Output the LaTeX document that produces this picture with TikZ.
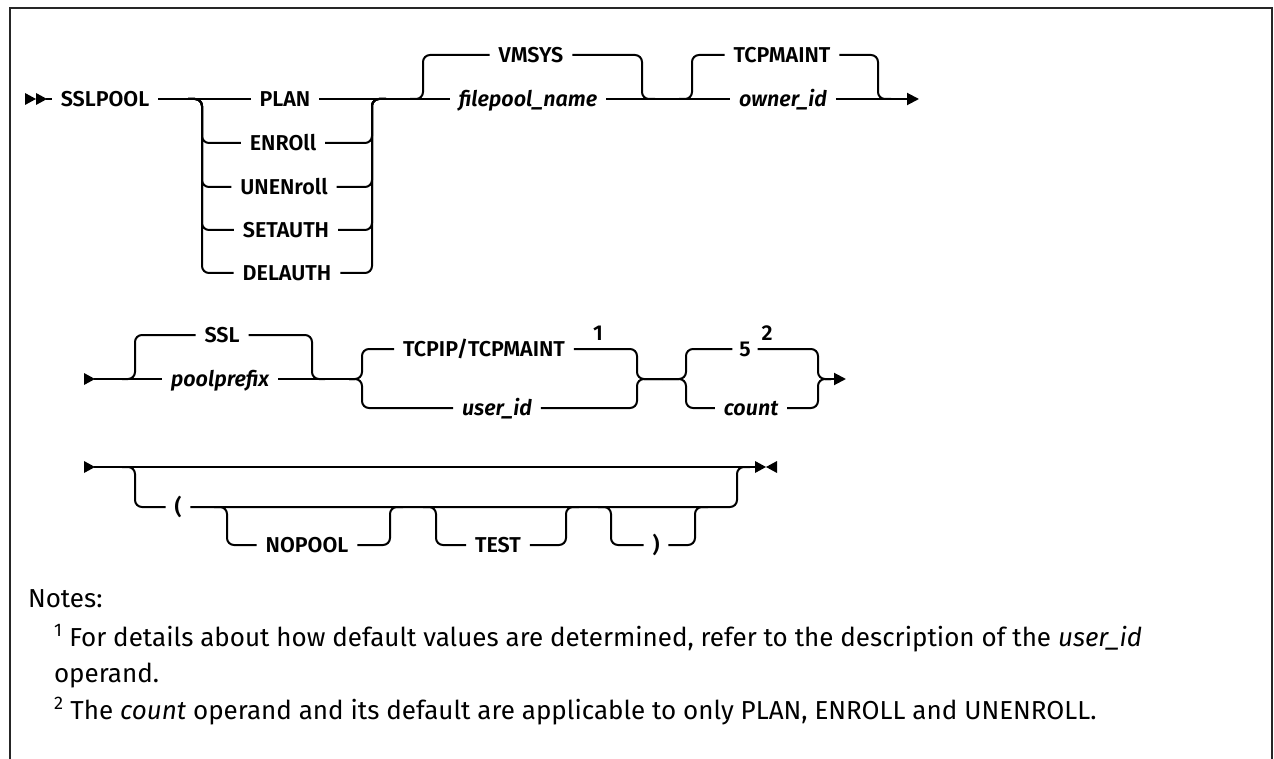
\documentclass[tikz,border=0pt]{standalone}
\usepackage{fontspec}
\usetikzlibrary{arrows.meta}
\setmainfont{Fira Sans}
\IfFontExistsTF{Fira Sans SemiBold}{%
  \IfFontExistsTF{Fira Sans SemiBold Italic}{%
    \newfontfamily\labfont{Fira Sans SemiBold}[ItalicFont={Fira Sans SemiBold Italic}]}{%
    \newfontfamily\labfont{Fira Sans}[UprightFont={* Bold},ItalicFont={* Bold Italic}]}}{%
  \newfontfamily\labfont{Fira Sans}[UprightFont={* Bold},ItalicFont={* Bold Italic}]}
\begin{document}
\begin{tikzpicture}[x=1pt,y=-1pt,line width=2pt,
  rr/.style={line width=2pt,rounded corners=7pt},
  lab/.style={font={\labfont\fontsize{21.5}{25}\selectfont},inner xsep=8pt,inner ysep=0pt,
    text height=14.8pt,text depth=0pt,anchor=center},
  ilab/.style={lab,font={\labfont\itshape\fontsize{21.5}{25}\selectfont}},
  note/.style={font={\fontsize{26}{30}\selectfont},inner sep=0pt,anchor=base west},
  tip/.style={-{Triangle[length=12pt,width=12pt]}}]
\useasboundingbox (0,0) rectangle (1274,759);
% frame
\draw[line width=2pt,black!85] (10,759) -- (10,8) -- (1272,8) -- (1272,759);

% ---------- row 1 ----------
\fill (25,93) -- (36,99) -- (25,105) -- cycle;
\fill (36,93) -- (47,99) -- (36,105) -- cycle;
\coordinate (s0) at (46,99);
\node[lab] (sslpool) at (105,99) {SSLPOOL};
\node[lab] (plan) at (285,99) {PLAN};
\node[lab] (enroll) at (283,143) {ENROll};
\node[lab] (unenroll) at (284,187) {UNENroll};
\node[lab] (setauth) at (286,230) {SETAUTH};
\node[lab] (delauth) at (287,273) {DELAUTH};
\coordinate (a1) at (188,99); \coordinate (v1) at (202,99);
\coordinate (v2) at (372,99); \coordinate (a2) at (386,99);
\node[lab] (vmsys) at (531,55) {VMSYS};
\node[ilab] (filepool) at (528,99) {filepool\_name};
\coordinate (b1) at (410,99); \coordinate (v3) at (423,99);
\coordinate (v4) at (642,99); \coordinate (b2) at (655,99);
\node[lab] (tcpmaint) at (782,55) {TCPMAINT};
\node[ilab] (owner) at (783,99) {owner\_id};
\coordinate (c1) at (679,99); \coordinate (v5) at (692,99);
\coordinate (v6) at (878,99); \coordinate (c2) at (891,99);
\coordinate (tip1) at (919,99);

\draw (s0) -- (sslpool.west);
\draw (sslpool.east) -- (plan.west);
\draw (plan.east) -- (filepool.west);
\draw (filepool.east) -- (owner.west);
\draw[tip] (owner.east) -- (tip1);
\foreach \n in {enroll,unenroll,setauth,delauth}{
  \draw[rr] (a1) -- (v1) |- (\n.west);
  \draw[rr] (\n.east) -| (v2) -- (a2);
}
\draw[rr] (b1) -- (v3) |- (vmsys.west);
\draw[rr] (vmsys.east) -| (v4) -- (b2);
\draw[rr] (c1) -- (v5) |- (tcpmaint.west);
\draw[rr] (tcpmaint.east) -| (v6) -- (c2);

% ---------- row 2 ----------
\fill (84,373) -- (95,379) -- (84,385) -- cycle;
\coordinate (r2s) at (94,379);
\node[lab] (ssl) at (222,335) {SSL};
\node[ilab] (poolprefix) at (220,379) {poolprefix};
\coordinate (d1) at (122,379); \coordinate (v7) at (135,379);
\coordinate (v8) at (312,379); \coordinate (d2) at (325,379);
\node[lab] (tcpip) at (484,349) {TCPIP/TCPMAINT};
\node[ilab] (userid) at (497,408) {user\_id};
\node[lab,inner xsep=0pt] (sup1) at (598,333) {1};
\coordinate (e1) at (349,379); \coordinate (v9) at (362,379);
\coordinate (v10) at (637,379); \coordinate (mid) at (662,379);
\coordinate (v11) at (686,379);
\node[lab,inner xsep=6pt] (five) at (745,349) {5};
\node[lab,inner xsep=0pt] (sup2) at (767,333) {2};
\node[ilab] (count) at (751,408) {count};
\coordinate (v12) at (818,379); \coordinate (f2) at (831,379);
\coordinate (tip2) at (846,379);

\draw (r2s) -- (poolprefix.west);
\draw[rr] (d1) -- (v7) |- (ssl.west);
\draw[rr] (ssl.east) -| (v8) -- (d2);
\draw (poolprefix.east) -- (e1);
\draw[rr] (e1) -- (v9) |- (tcpip.west);
\draw[rr] (e1) -- (v9) |- (userid.west);
\draw[rr] (tcpip.east) -| (v10) -- (mid);
\draw[rr] (userid.east) -| (v10) -- (mid);
\draw[rr] (mid) -- (v11) |- (five.west);
\draw[rr] (mid) -- (v11) |- (count.west);
\draw[rr] (five.east) -| (v12) -- (f2);
\draw[rr] (count.east) -| (v12) -- (f2);
\draw[tip] (f2) -- (tip2);

% ---------- row 3 ----------
\fill (84,461) -- (95,467) -- (84,473) -- cycle;
\coordinate (r3s) at (94,467);
\coordinate (e3) at (756,467);
\fill (755,461) -- (766,467) -- (755,473) -- cycle;
\fill (777,461) -- (766,467) -- (777,473) -- cycle;
\node[lab] (lparen) at (178,507) {(};
\node[lab] (nopool) at (307,545) {NOPOOL};
\node[lab] (test) at (498,545) {TEST};
\node[lab] (rparen) at (656,545) {)};
\coordinate (g1) at (122,467); \coordinate (v13) at (135,467);
\coordinate (v14) at (737,467); \coordinate (g2) at (750,467);
\coordinate (h1) at (214,507); \coordinate (v15) at (227,507);
\coordinate (v16) at (390,507); \coordinate (h2) at (403,507);
\coordinate (h3) at (423,507); \coordinate (v17) at (436,507);
\coordinate (v18) at (566,507); \coordinate (h4) at (579,507);
\coordinate (h5) at (598,507); \coordinate (v19) at (611,507);
\coordinate (v20) at (695,507); \coordinate (h6) at (708,507);

\draw (r3s) -- (e3);
\draw[rr] (g1) -- (v13) |- (lparen.west);
\draw[rr] (lparen.east) -| (v14) -- (g2);
\draw[rr] (h1) -- (v15) |- (nopool.west);
\draw[rr] (nopool.east) -| (v16) -- (h2);
\draw[rr] (h3) -- (v17) |- (test.west);
\draw[rr] (test.east) -| (v18) -- (h4);
\draw[rr] (h5) -- (v19) |- (rparen.west);
\draw[rr] (rparen.east) -| (v20) -- (h6);

% ---------- notes ----------
\node[note] (notes) at (27,607) {Notes:};
\node[note] (n1) at (53,646) {\textsuperscript{1} For details about how default values are determined, refer to the description of the \textit{user\_id}};
\node[note] (n1b) at (53,682) {operand.};
\node[note] (n2) at (53,719) {\textsuperscript{2} The \textit{count} operand and its default are applicable to only PLAN, ENROLL and UNENROLL.};
\end{tikzpicture}
\end{document}
